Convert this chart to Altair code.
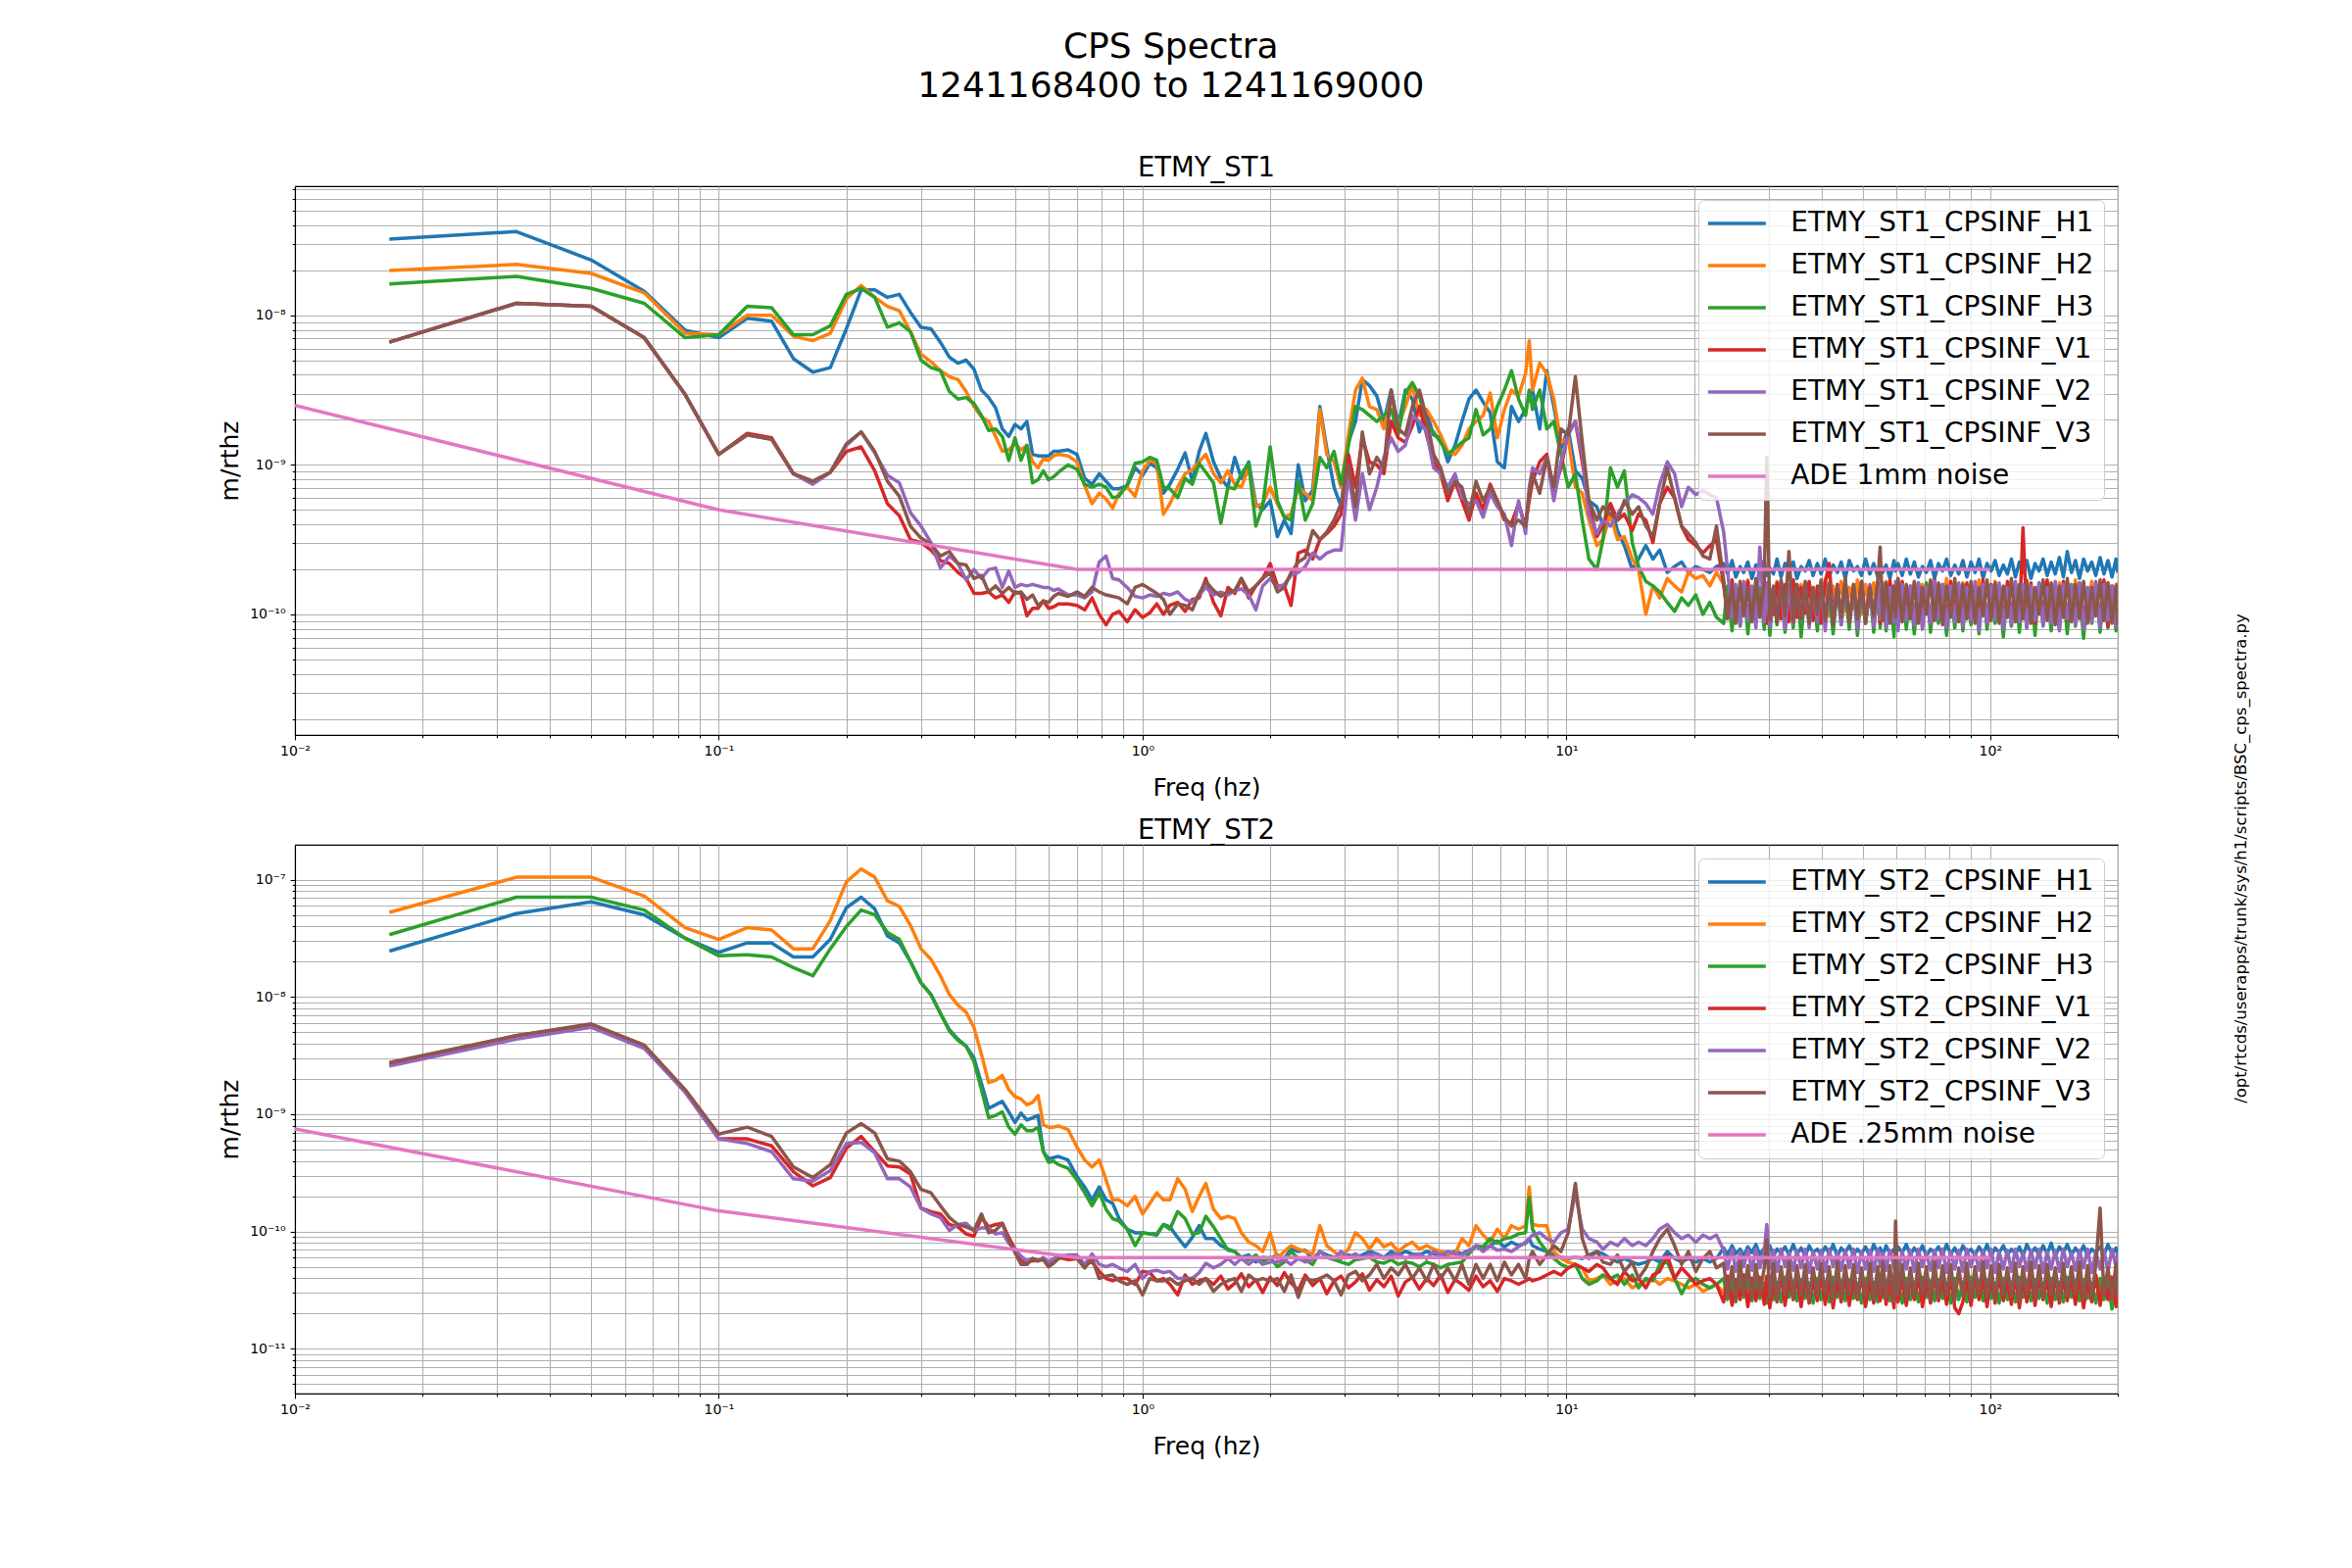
import altair as alt
import pandas as pd

# ---------------- frequency grid (Hz) ----------------
FREQ_A = [0.0167, 0.0333, 0.05, 0.0667, 0.0833, 0.1, 0.1167, 0.1333, 0.15, 0.1667,
          0.1833, 0.2, 0.2167, 0.2333, 0.25, 0.2667, 0.2833, 0.3, 0.3167, 0.3333,
          0.35, 0.3667, 0.3833, 0.4, 0.4167, 0.4333, 0.45, 0.4667, 0.4833, 0.5,
          0.5167, 0.5333, 0.55, 0.5667, 0.5833, 0.6, 0.6167, 0.6333, 0.6667]
FREQ_B = [0.70, 0.73, 0.76, 0.79, 0.82, 0.85, 0.88, 0.92, 0.96, 1.00,
          1.04, 1.08, 1.12, 1.16, 1.21, 1.26, 1.31, 1.36, 1.41, 1.47,
          1.53, 1.59, 1.65, 1.71, 1.78, 1.85, 1.92, 2.00, 2.08, 2.16,
          2.24, 2.33, 2.42, 2.52, 2.62, 2.72, 2.83, 2.94, 3.06, 3.18,
          3.30, 3.43, 3.57, 3.71, 3.86, 4.01, 4.17, 4.33, 4.50, 4.68,
          4.86, 5.05, 5.25, 5.46, 5.67, 5.89, 6.12, 6.36, 6.61, 6.87,
          7.14, 7.42, 7.71, 8.01, 8.17, 8.32, 8.65, 8.99, 9.34, 9.71,
          10.1, 10.5, 10.9, 11.3, 11.8, 12.2,
          12.7, 13.2, 13.7, 14.3, 14.8, 15.4, 16.0, 16.6, 17.3, 18.0,
          18.7, 19.4, 20.2, 21.0, 21.8, 22.6]
FREQ_C = [23.5, 24.0, 24.6, 25.1, 25.7, 26.2, 26.8, 27.4, 28.0, 28.6,
          29.3, 29.7, 30.2, 30.8, 31.4, 32.1, 32.8, 33.5, 34.3, 35.0,
          35.8, 36.6, 37.4, 38.2, 39.1, 39.9, 40.8, 41.7, 42.6, 43.6,
          44.5, 45.5, 46.5, 47.6, 48.6, 49.7, 50.8, 52.0, 53.1, 54.3,
          55.0, 55.8, 56.8, 58.0, 59.3, 59.8, 60.6, 62.0, 63.4, 64.8,
          66.2, 67.7, 69.2, 70.7, 72.3, 73.9, 75.5, 77.2, 78.9, 80.7,
          82.5, 84.3, 86.2, 88.1, 90.1, 92.1, 94.1, 96.2, 98.3, 100.5,
          102.7, 105.0, 107.4, 109.8, 112.2, 114.7, 117.2, 119.5, 122.0, 124.8,
          127.6, 130.4, 133.3, 136.3, 139.3, 142.4, 145.6, 148.8, 152.0, 155.5,
          158.9, 162.5, 166.1, 169.8, 173.6, 177.5, 181.7, 185.5, 189.6, 193.8,
          198.1, 200.0]
FREQ = FREQ_A + FREQ_B + FREQ_C

# ---------------- ETMY_ST1 spectra, log10(m/rtHz) ----------------
ST1_H1 = ([-7.49, -7.44, -7.63, -7.84, -8.10, -8.15, -8.02, -8.04, -8.29, -8.38,
           -8.35, -8.09, -7.83, -7.83, -7.88, -7.86, -7.98, -8.08, -8.09, -8.18,
           -8.28, -8.32, -8.30, -8.36, -8.50, -8.55, -8.62, -8.76, -8.81, -8.73,
           -8.76, -8.71, -8.93, -8.94, -8.94, -8.94, -8.91, -8.91, -8.90]
          + [-8.93, -9.09, -9.13, -9.06, -9.11, -9.16, -9.16, -9.14, -9.02, -9.07,
             -8.99, -9.02, -9.19, -9.13, -9.03, -8.92, -9.11, -8.91, -8.79, -8.98,
             -9.09, -9.15, -8.95, -9.09, -8.98, -9.26, -9.30, -9.24, -9.48, -9.37,
             -9.46, -9.00, -9.24, -9.17, -8.61, -8.89, -9.15, -9.28, -8.85, -8.71,
             -8.43, -8.47, -8.54, -8.71, -8.50, -8.74, -8.50, -8.56, -8.78, -8.65,
             -8.80, -8.82, -8.98, -8.87, -8.71, -8.56, -8.50, -8.58, -8.65, -8.98,
             -9.02, -8.61, -8.71, -8.63, -8.54, -8.50, -8.76, -8.37, -8.61, -8.89,
             -8.76, -9.04, -9.09, -9.24, -9.28, -9.41]
          + [-9.26, -9.44, -9.54, -9.70, -9.63, -9.54, -9.63, -9.57, -9.72, -9.68,
             -9.65, -9.72, -9.68, -9.70, -9.72, -9.68]
          + [-9.66, -9.73, -9.64, -9.75, -9.68, -9.72, -9.65, -9.76, -9.67, -9.71,
             -9.64, -9.74, -9.69, -9.73, -9.63, -9.75, -9.66, -9.72, -9.65, -9.76,
             -9.68, -9.71, -9.64, -9.74, -9.66, -9.73, -9.63, -9.75, -9.67, -9.72,
             -9.65, -9.76, -9.64, -9.71, -9.68, -9.74, -9.63, -9.73, -9.66, -9.75,
             -9.65, -9.72, -9.67, -9.76, -9.64, -9.71, -9.66, -9.74, -9.63, -9.73,
             -9.65, -9.75, -9.68, -9.72, -9.64, -9.76, -9.66, -9.71, -9.63, -9.74,
             -9.67, -9.73, -9.64, -9.75, -9.65, -9.72, -9.63, -9.76, -9.66, -9.71,
             -9.64, -9.74, -9.67, -9.73, -9.63, -9.75, -9.65, -9.72, -9.64, -9.76,
             -9.66, -9.71, -9.63, -9.74, -9.65, -9.73, -9.62, -9.75, -9.58, -9.72,
             -9.64, -9.76, -9.63, -9.71, -9.65, -9.74, -9.62, -9.73, -9.64, -9.75,
             -9.63, -9.72])

ST1_H2 = ([-7.70, -7.66, -7.72, -7.85, -8.12, -8.13, -8.00, -8.00, -8.14, -8.17,
           -8.12, -7.89, -7.80, -7.88, -7.94, -7.97, -8.11, -8.26, -8.31, -8.37,
           -8.41, -8.43, -8.51, -8.61, -8.68, -8.71, -8.81, -8.91, -8.90, -8.86,
           -8.90, -8.87, -8.98, -9.02, -8.96, -8.97, -8.94, -8.93, -8.94]
          + [-8.98, -9.14, -9.26, -9.19, -9.23, -9.29, -9.19, -9.15, -9.21, -9.04,
             -8.97, -8.99, -9.33, -9.26, -9.15, -9.06, -9.03, -8.98, -8.93, -9.06,
             -9.12, -9.04, -9.13, -9.15, -9.02, -9.28, -9.26, -9.15, -9.26, -9.35,
             -9.33, -9.15, -9.19, -9.24, -8.63, -8.93, -8.98, -9.15, -8.80, -8.50,
             -8.42, -8.61, -8.63, -8.76, -8.54, -8.74, -8.61, -8.47, -8.67, -8.63,
             -8.71, -8.80, -8.91, -8.93, -8.87, -8.76, -8.71, -8.67, -8.52, -8.82,
             -8.63, -8.50, -8.54, -8.39, -8.17, -8.50, -8.32, -8.39, -8.56, -8.85,
             -8.82, -9.15, -9.19, -9.37, -9.54, -9.50]
          + [-9.33, -9.50, -9.48, -9.63, -9.70, -10.00, -9.81, -9.89, -9.76, -9.81,
             -9.85, -9.72, -9.76, -9.74, -9.81, -9.72]
          + [-9.80, -9.97, -9.78, -10.00, -9.83, -9.95, -9.77, -9.99, -9.81, -9.96,
             -9.79, -10.01, -9.84, -9.94, -9.78, -9.98, -9.82, -9.96, -9.77, -10.00,
             -9.80, -9.95, -9.79, -9.99, -9.83, -9.97, -9.76, -10.01, -9.81, -9.94,
             -9.78, -9.98, -9.82, -9.96, -9.77, -10.00, -9.80, -9.95, -9.79, -9.99,
             -9.84, -9.97, -9.78, -10.01, -9.81, -9.94, -9.77, -9.98, -9.83, -9.96,
             -9.79, -10.00, -9.80, -9.95, -9.78, -9.99, -9.82, -9.97, -9.76, -10.01,
             -9.81, -9.94, -9.79, -9.98, -9.83, -9.96, -9.77, -10.00, -9.80, -9.95,
             -9.78, -9.99, -9.82, -9.97, -9.79, -10.01, -9.81, -9.94, -9.77, -9.98,
             -9.83, -9.96, -9.78, -10.00, -9.80, -9.95, -9.79, -9.99, -9.82, -9.97,
             -9.77, -10.01, -9.81, -9.94, -9.78, -9.98, -9.83, -9.96, -9.79, -10.00,
             -9.80, -9.95])

ST1_H3 = ([-7.79, -7.74, -7.82, -7.92, -8.15, -8.13, -7.94, -7.95, -8.13, -8.13,
           -8.07, -7.86, -7.82, -7.88, -8.08, -8.05, -8.11, -8.30, -8.35, -8.37,
           -8.51, -8.56, -8.55, -8.59, -8.67, -8.77, -8.76, -8.81, -8.97, -8.82,
           -8.97, -8.87, -9.12, -9.10, -9.04, -9.10, -9.08, -9.05, -9.00]
          + [-9.03, -9.13, -9.15, -9.13, -9.15, -9.22, -9.21, -9.13, -8.99, -8.98,
             -8.95, -8.97, -9.15, -9.16, -9.22, -9.09, -9.13, -8.99, -9.05, -9.12,
             -9.39, -9.15, -9.16, -9.06, -8.99, -9.41, -9.28, -8.88, -9.24, -9.35,
             -9.37, -9.11, -9.37, -9.26, -8.95, -9.02, -8.91, -9.13, -8.87, -8.61,
             -8.63, -8.67, -8.71, -8.67, -8.63, -8.80, -8.52, -8.45, -8.54, -8.74,
             -8.78, -8.85, -8.93, -8.89, -8.85, -8.82, -8.63, -8.80, -8.76, -8.61,
             -8.50, -8.37, -8.56, -8.67, -8.50, -8.63, -8.50, -8.76, -8.71, -8.93,
             -9.15, -9.06, -9.37, -9.63, -9.70, -9.50]
          + [-9.02, -9.15, -9.04, -9.52, -9.68, -9.78, -9.81, -9.85, -9.92, -9.98,
             -9.89, -9.94, -9.87, -10.00, -9.92, -10.02]
          + [-10.06, -9.81, -10.11, -9.84, -10.08, -9.80, -10.13, -9.83, -10.05, -9.82,
             -10.10, -9.79, -10.14, -9.85, -10.07, -9.81, -10.12, -9.83, -10.09, -9.80,
             -10.15, -9.84, -10.06, -9.82, -10.11, -9.79, -10.08, -9.85, -10.13, -9.81,
             -10.07, -9.83, -10.10, -9.80, -10.14, -9.84, -10.06, -9.82, -10.12, -9.79,
             -10.09, -9.85, -10.11, -9.81, -10.15, -9.83, -10.07, -9.80, -10.10, -9.84,
             -10.13, -9.82, -10.08, -9.79, -10.12, -9.85, -10.06, -9.81, -10.14, -9.83,
             -10.09, -9.80, -10.11, -9.84, -10.07, -9.82, -10.13, -9.79, -10.10, -9.85,
             -10.06, -9.81, -10.15, -9.83, -10.08, -9.80, -10.12, -9.84, -10.09, -9.82,
             -10.14, -9.79, -10.07, -9.85, -10.11, -9.81, -10.10, -9.83, -10.13, -9.80,
             -10.08, -9.84, -10.16, -9.82, -10.06, -9.79, -10.12, -9.85, -10.09, -9.81,
             -10.11, -9.83])

ST1_V1 = ([-8.18, -7.92, -7.94, -8.15, -8.53, -8.93, -8.79, -8.82, -9.06, -9.11,
           -9.05, -8.91, -8.88, -9.04, -9.26, -9.34, -9.50, -9.52, -9.57, -9.64,
           -9.66, -9.72, -9.76, -9.86, -9.86, -9.85, -9.89, -9.87, -9.92, -9.85,
           -9.86, -10.01, -9.96, -9.96, -9.91, -9.96, -9.95, -9.93, -9.93]
          + [-9.94, -9.97, -9.89, -10.00, -10.07, -10.00, -9.98, -10.05, -9.97, -10.02,
             -9.99, -9.93, -10.00, -9.94, -9.92, -9.98, -9.90, -9.89, -9.76, -9.92,
             -10.01, -9.82, -9.86, -9.76, -9.89, -9.81, -9.76, -9.66, -9.81, -9.81,
             -9.94, -9.59, -9.57, -9.63, -9.50, -9.46, -9.41, -9.33, -8.93, -9.15,
             -8.82, -8.98, -9.00, -9.06, -8.71, -8.82, -8.85, -8.74, -8.61, -8.80,
             -8.98, -9.06, -9.24, -9.11, -9.24, -9.37, -9.19, -9.30, -9.13, -9.24,
             -9.37, -9.39, -9.26, -9.41, -9.24, -9.11, -8.98, -8.93, -9.17, -9.02,
             -8.78, -8.71, -8.98, -9.26, -9.48, -9.41]
          + [-9.26, -9.37, -9.33, -9.44, -9.33, -9.37, -9.52, -9.26, -9.15, -9.22,
             -9.41, -9.50, -9.54, -9.59, -9.54, -9.50]
          + [-9.80, -10.02, -9.77, -10.05, -9.82, -9.99, -9.78, -10.04, -9.81, -10.01,
             -9.76, -10.06, -9.83, -10.00, -9.79, -10.03, -9.80, -10.05, -9.77, -10.02,
             -9.82, -9.99, -9.78, -10.04, -9.81, -10.06, -9.79, -9.66, -10.03, -9.80,
             -10.01, -9.77, -10.05, -9.83, -10.00, -9.78, -10.04, -9.81, -10.02, -9.79,
             -10.06, -9.80, -9.99, -9.77, -10.03, -9.82, -10.05, -9.78, -10.01, -9.81,
             -10.04, -9.79, -10.00, -9.83, -10.06, -9.77, -10.02, -9.80, -10.05, -9.78,
             -9.99, -9.82, -10.03, -9.79, -10.04, -9.81, -10.01, -9.77, -10.06, -9.80,
             -10.00, -9.83, -10.05, -9.78, -10.02, -9.81, -10.04, -9.42, -10.03, -9.79,
             -10.06, -9.80, -10.01, -9.77, -10.05, -9.82, -10.00, -9.78, -10.04, -9.81,
             -10.02, -9.79, -10.06, -9.83, -10.03, -9.80, -10.05, -9.77, -10.08, -9.81,
             -10.01, -9.79])

ST1_V2 = ([-8.18, -7.92, -7.94, -8.15, -8.53, -8.93, -8.80, -8.83, -9.06, -9.13,
           -9.05, -8.87, -8.78, -8.92, -9.07, -9.12, -9.32, -9.41, -9.52, -9.69,
           -9.61, -9.66, -9.77, -9.70, -9.76, -9.70, -9.69, -9.82, -9.71, -9.82,
           -9.80, -9.81, -9.80, -9.81, -9.82, -9.82, -9.84, -9.83, -9.87]
          + [-9.87, -9.89, -9.85, -9.65, -9.61, -9.76, -9.77, -9.82, -9.88, -9.89,
             -9.87, -9.88, -9.86, -9.87, -9.85, -9.90, -9.92, -9.87, -9.82, -9.87,
             -9.85, -9.87, -9.84, -9.83, -9.87, -9.97, -9.81, -9.76, -9.82, -9.80,
             -9.74, -9.72, -9.68, -9.59, -9.63, -9.59, -9.57, -9.57, -9.06, -9.37,
             -9.06, -9.30, -9.15, -8.95, -8.82, -8.91, -8.87, -8.67, -8.71, -8.78,
             -9.02, -9.06, -9.15, -9.06, -9.22, -9.26, -9.24, -9.35, -9.19, -9.28,
             -9.33, -9.54, -9.24, -9.46, -9.15, -9.02, -9.06, -8.95, -9.24, -8.98,
             -8.80, -8.71, -8.93, -9.33, -9.46, -9.37]
          + [-9.41, -9.33, -9.26, -9.20, -9.22, -9.26, -9.33, -9.13, -8.98, -9.06,
             -9.28, -9.15, -9.20, -9.17, -9.20, -9.22]
          + [-9.45, -9.70, -10.02, -9.80, -10.07, -9.78, -10.04, -9.81, -10.09, -9.55,
             -10.05, -9.79, -10.08, -9.82, -10.03, -9.78, -10.10, -9.80, -10.06, -9.81,
             -10.04, -9.79, -10.09, -9.82, -10.05, -9.78, -10.11, -9.80, -10.03, -9.81,
             -10.07, -9.79, -10.04, -9.82, -10.10, -9.78, -10.06, -9.80, -10.08, -9.81,
             -10.03, -9.79, -10.09, -9.82, -10.05, -9.78, -10.11, -9.80, -10.04, -9.81,
             -10.07, -9.79, -10.10, -9.82, -10.06, -9.78, -10.03, -9.80, -10.09, -9.81,
             -10.05, -9.79, -10.08, -9.82, -10.04, -9.78, -10.11, -9.80, -10.06, -9.81,
             -10.03, -9.79, -10.10, -9.82, -10.07, -9.78, -10.05, -9.80, -10.09, -9.81,
             -10.04, -9.79, -10.08, -9.82, -10.06, -9.78, -10.11, -9.80, -10.03, -9.81,
             -10.07, -9.79, -10.10, -9.82, -10.05, -9.78, -10.09, -9.80, -10.04, -9.81,
             -10.08, -9.79])

ST1_V3 = ([-8.18, -7.92, -7.94, -8.15, -8.53, -8.93, -8.80, -8.83, -9.06, -9.11,
           -9.05, -8.86, -8.78, -8.91, -9.11, -9.21, -9.41, -9.49, -9.53, -9.61,
           -9.58, -9.66, -9.67, -9.76, -9.74, -9.85, -9.81, -9.86, -9.82, -9.86,
           -9.85, -9.90, -9.87, -9.94, -9.91, -9.92, -9.88, -9.86, -9.88]
          + [-9.85, -9.88, -9.82, -9.85, -9.87, -9.88, -9.89, -9.93, -9.82, -9.80,
             -9.83, -9.86, -9.90, -10.00, -9.93, -9.94, -9.97, -9.86, -9.78, -9.84,
             -9.88, -9.85, -9.84, -9.76, -9.85, -9.81, -9.76, -9.72, -9.85, -9.82,
             -9.72, -9.65, -9.62, -9.44, -9.50, -9.45, -9.37, -9.26, -9.00, -9.28,
             -8.78, -9.06, -8.95, -9.02, -8.50, -8.76, -8.80, -8.61, -8.50, -8.69,
             -8.93, -9.02, -9.19, -9.11, -9.15, -9.33, -9.11, -9.24, -9.15, -9.24,
             -9.35, -9.41, -9.37, -9.41, -9.19, -9.06, -9.19, -8.95, -9.15, -8.76,
             -8.80, -8.41, -8.85, -9.24, -9.37, -9.28]
          + [-9.33, -9.37, -9.24, -9.33, -9.28, -9.41, -9.48, -9.26, -9.02, -9.22,
             -9.41, -9.46, -9.52, -9.61, -9.63, -9.41]
          + [-9.77, -10.03, -9.80, -10.06, -9.78, -10.01, -9.82, -10.05, -9.76, -10.02,
             -9.79, -8.95, -10.04, -9.81, -10.06, -9.77, -10.01, -9.58, -10.05, -9.80,
             -10.03, -9.78, -10.06, -9.82, -10.00, -9.77, -10.04, -9.79, -10.07, -9.81,
             -10.02, -9.76, -10.05, -9.80, -10.03, -9.78, -10.06, -9.82, -10.01, -9.77,
             -9.55, -10.04, -9.79, -10.06, -9.81, -10.02, -9.76, -10.05, -9.80, -10.03,
             -9.78, -10.06, -9.82, -10.00, -9.77, -10.04, -9.79, -10.07, -9.81, -10.02,
             -9.76, -10.05, -9.80, -10.03, -9.78, -10.06, -9.82, -10.01, -9.77, -10.04,
             -9.79, -10.06, -9.81, -10.02, -9.76, -10.05, -9.80, -10.03, -9.78, -10.06,
             -9.82, -10.00, -9.77, -10.04, -9.79, -10.07, -9.81, -10.02, -9.76, -10.05,
             -9.80, -10.03, -9.78, -10.06, -9.82, -10.01, -9.77, -10.04, -9.79, -10.06,
             -9.81, -10.07])

# ---------------- ETMY_ST2 spectra, log10(m/rtHz) ----------------
ST2_H1 = ([-7.61, -7.29, -7.19, -7.30, -7.50, -7.62, -7.54, -7.54, -7.66, -7.66,
           -7.51, -7.24, -7.15, -7.25, -7.48, -7.54, -7.70, -7.88, -7.98, -8.14,
           -8.28, -8.36, -8.42, -8.52, -8.74, -8.95, -8.92, -8.89, -8.98, -9.07,
           -8.99, -9.05, -9.03, -9.01, -9.32, -9.38, -9.37, -9.36, -9.39]
          + [-9.53, -9.62, -9.73, -9.62, -9.73, -9.76, -9.89, -9.98, -10.01, -10.01,
             -10.02, -10.03, -9.94, -9.96, -10.05, -10.13, -10.05, -9.95, -10.06, -10.06,
             -10.12, -10.15, -10.17, -10.22, -10.20, -10.26, -10.22, -10.23, -10.20, -10.23,
             -10.15, -10.17, -10.16, -10.24, -10.17, -10.20, -10.22, -10.23, -10.20, -10.22,
             -10.20, -10.17, -10.19, -10.22, -10.17, -10.20, -10.17, -10.19, -10.20, -10.17,
             -10.19, -10.20, -10.20, -10.17, -10.19, -10.16, -10.13, -10.15, -10.12, -10.08,
             -10.13, -10.09, -10.12, -10.10, -10.06, -10.12, -10.15, -10.17, -10.20, -10.22,
             -10.23, -10.22, -10.23, -10.20, -10.17, -10.19]
          + [-10.23, -10.26, -10.23, -10.26, -10.28, -10.26, -10.23, -10.26, -10.17, -10.23,
             -10.26, -10.23, -10.26, -10.23, -10.26, -10.23]
          + [-10.14, -10.20, -10.12, -10.19, -10.15, -10.21, -10.13, -10.18, -10.11, -10.20,
             -10.14, -10.19, -10.12, -10.21, -10.15, -10.18, -10.13, -10.20, -10.11, -10.19,
             -10.14, -10.21, -10.12, -10.18, -10.15, -10.20, -10.13, -10.19, -10.11, -10.21,
             -10.14, -10.18, -10.12, -10.20, -10.15, -10.19, -10.13, -10.21, -10.11, -10.18,
             -10.14, -10.20, -10.12, -10.19, -10.15, -10.21, -10.13, -10.18, -10.11, -10.20,
             -10.14, -10.19, -10.12, -10.21, -10.15, -10.18, -10.13, -10.20, -10.11, -10.19,
             -10.14, -10.21, -10.12, -10.18, -10.15, -10.20, -10.13, -10.19, -10.11, -10.21,
             -10.14, -10.18, -10.12, -10.20, -10.15, -10.19, -10.13, -10.21, -10.11, -10.18,
             -10.14, -10.20, -10.12, -10.19, -10.10, -10.21, -10.13, -10.18, -10.11, -10.20,
             -10.14, -10.19, -10.12, -10.21, -10.15, -10.18, -10.13, -10.20, -10.11, -10.19,
             -10.14, -10.21])

ST2_H2 = ([-7.28, -6.98, -6.98, -7.14, -7.41, -7.51, -7.41, -7.43, -7.59, -7.59,
           -7.35, -7.02, -6.91, -6.98, -7.18, -7.23, -7.39, -7.59, -7.68, -7.82,
           -7.98, -8.07, -8.13, -8.26, -8.49, -8.73, -8.71, -8.67, -8.79, -8.85,
           -8.87, -8.92, -8.90, -8.84, -9.09, -9.11, -9.11, -9.10, -9.13]
          + [-9.28, -9.39, -9.45, -9.39, -9.56, -9.73, -9.73, -9.78, -9.70, -9.85,
             -9.76, -9.67, -9.73, -9.73, -9.55, -9.64, -9.83, -9.70, -9.59, -9.81,
             -9.89, -9.87, -9.89, -10.01, -10.09, -10.12, -10.17, -10.01, -10.23, -10.17,
             -10.12, -10.15, -10.17, -10.19, -9.95, -10.12, -10.17, -10.22, -10.15, -10.01,
             -10.06, -10.15, -10.06, -10.13, -10.10, -10.17, -10.12, -10.09, -10.15, -10.12,
             -10.15, -10.17, -10.19, -10.19, -10.06, -10.12, -9.95, -10.03, -10.09, -9.98,
             -10.06, -9.95, -9.98, -9.95, -9.62, -9.94, -9.95, -9.95, -10.17, -10.23,
             -10.26, -10.28, -10.31, -10.42, -10.40, -10.37]
          + [-10.45, -10.42, -10.40, -10.48, -10.45, -10.42, -10.40, -10.45, -10.40, -10.42,
             -10.45, -10.48, -10.45, -10.51, -10.48, -10.45]
          + [-10.52, -10.38, -10.55, -10.41, -10.50, -10.37, -10.54, -10.40, -10.51, -10.39,
             -10.56, -10.38, -10.53, -10.41, -10.50, -10.37, -10.55, -10.40, -10.52, -10.39,
             -10.54, -10.38, -10.51, -10.41, -10.56, -10.37, -10.53, -10.40, -10.50, -10.39,
             -10.55, -10.38, -10.52, -10.41, -10.54, -10.37, -10.51, -10.40, -10.56, -10.39,
             -10.53, -10.38, -10.50, -10.41, -10.55, -10.37, -10.52, -10.40, -10.54, -10.39,
             -10.51, -10.38, -10.56, -10.41, -10.53, -10.37, -10.50, -10.40, -10.55, -10.39,
             -10.52, -10.38, -10.54, -10.41, -10.51, -10.37, -10.56, -10.40, -10.53, -10.39,
             -10.50, -10.38, -10.55, -10.41, -10.52, -10.37, -10.54, -10.40, -10.51, -10.39,
             -10.56, -10.38, -10.53, -10.41, -10.50, -10.37, -10.55, -10.40, -10.52, -10.39,
             -10.54, -10.38, -10.51, -10.41, -10.56, -10.37, -10.53, -10.40, -10.50, -10.39,
             -10.55, -10.38])

ST2_H3 = ([-7.47, -7.15, -7.15, -7.26, -7.50, -7.65, -7.64, -7.66, -7.75, -7.82,
           -7.59, -7.40, -7.26, -7.30, -7.45, -7.51, -7.70, -7.88, -7.98, -8.14,
           -8.29, -8.37, -8.42, -8.55, -8.79, -9.03, -9.01, -8.98, -9.11, -9.17,
           -9.09, -9.14, -9.14, -9.11, -9.32, -9.41, -9.40, -9.43, -9.46]
          + [-9.56, -9.67, -9.78, -9.67, -9.81, -9.89, -9.91, -9.98, -10.12, -10.01,
             -10.02, -10.02, -9.94, -9.98, -9.83, -9.89, -10.02, -10.01, -9.87, -9.96,
             -10.06, -10.16, -10.17, -10.23, -10.24, -10.20, -10.26, -10.22, -10.30, -10.26,
             -10.17, -10.23, -10.24, -10.28, -10.17, -10.22, -10.24, -10.26, -10.28, -10.24,
             -10.23, -10.22, -10.26, -10.27, -10.24, -10.28, -10.26, -10.27, -10.30, -10.26,
             -10.28, -10.31, -10.28, -10.27, -10.26, -10.19, -10.12, -10.13, -10.06, -10.10,
             -10.06, -10.05, -10.02, -10.01, -9.71, -9.98, -10.09, -10.17, -10.23, -10.28,
             -10.31, -10.28, -10.40, -10.45, -10.42, -10.37]
          + [-10.40, -10.37, -10.45, -10.37, -10.48, -10.40, -10.42, -10.28, -10.26, -10.40,
             -10.53, -10.42, -10.40, -10.45, -10.48, -10.45]
          + [-10.40, -10.58, -10.43, -10.60, -10.39, -10.56, -10.42, -10.59, -10.41, -10.57,
             -10.44, -10.61, -10.40, -10.58, -10.43, -10.60, -10.39, -10.56, -10.42, -10.59,
             -10.41, -10.57, -10.44, -10.61, -10.40, -10.58, -10.43, -10.60, -10.39, -10.56,
             -10.42, -10.59, -10.41, -10.57, -10.44, -10.61, -10.40, -10.58, -10.43, -10.60,
             -10.39, -10.56, -10.42, -10.59, -10.41, -10.57, -10.44, -10.61, -10.40, -10.58,
             -10.43, -10.60, -10.39, -10.56, -10.42, -10.59, -10.41, -10.57, -10.44, -10.61,
             -10.40, -10.58, -10.43, -10.60, -10.39, -10.56, -10.42, -10.59, -10.41, -10.57,
             -10.44, -10.61, -10.40, -10.58, -10.43, -10.60, -10.39, -10.56, -10.42, -10.59,
             -10.41, -10.57, -10.44, -10.61, -10.40, -10.58, -10.43, -10.60, -10.39, -10.56,
             -10.42, -10.59, -10.41, -10.57, -10.44, -10.61, -10.40, -10.58, -10.43, -10.66,
             -10.41, -10.60])

ST2_V1 = ([-8.58, -8.33, -8.24, -8.42, -8.81, -9.21, -9.21, -9.27, -9.49, -9.61,
           -9.54, -9.29, -9.19, -9.32, -9.44, -9.45, -9.51, -9.80, -9.83, -9.85,
           -9.94, -9.96, -10.02, -10.04, -9.88, -9.96, -9.94, -9.93, -10.05, -10.15,
           -10.25, -10.26, -10.25, -10.25, -10.23, -10.27, -10.25, -10.22, -10.24]
          + [-10.23, -10.28, -10.26, -10.34, -10.40, -10.42, -10.40, -10.40, -10.45, -10.34,
             -10.35, -10.42, -10.40, -10.45, -10.54, -10.37, -10.45, -10.42, -10.40, -10.45,
             -10.38, -10.49, -10.44, -10.36, -10.47, -10.41, -10.52, -10.39, -10.46, -10.35,
             -10.44, -10.50, -10.37, -10.46, -10.40, -10.53, -10.42, -10.38, -10.48, -10.43,
             -10.36, -10.50, -10.41, -10.47, -10.38, -10.55, -10.43, -10.39, -10.49, -10.40,
             -10.46, -10.37, -10.52, -10.41, -10.45, -10.50, -10.38, -10.47, -10.42, -10.51,
             -10.40, -10.42, -10.45, -10.42, -10.40, -10.42, -10.40, -10.37, -10.34, -10.37,
             -10.31, -10.28, -10.31, -10.34, -10.28, -10.31]
          + [-10.40, -10.45, -10.34, -10.42, -10.40, -10.48, -10.37, -10.34, -10.20, -10.40,
             -10.31, -10.37, -10.45, -10.42, -10.40, -10.45]
          + [-10.60, -10.38, -10.63, -10.41, -10.58, -10.37, -10.64, -10.40, -10.59, -10.39,
             -10.62, -10.38, -10.65, -10.41, -10.60, -10.37, -10.63, -10.40, -10.58, -10.39,
             -10.64, -10.38, -10.61, -10.41, -10.59, -10.37, -10.62, -10.40, -10.65, -10.39,
             -10.60, -10.38, -10.63, -10.41, -10.58, -10.37, -10.64, -10.40, -10.61, -10.39,
             -10.59, -10.38, -10.62, -10.41, -10.65, -10.37, -10.60, -10.40, -10.63, -10.39,
             -10.58, -10.38, -10.64, -10.41, -10.61, -10.37, -10.59, -10.40, -10.62, -10.39,
             -10.65, -10.70, -10.60, -10.41, -10.63, -10.37, -10.58, -10.40, -10.64, -10.39,
             -10.61, -10.38, -10.59, -10.41, -10.62, -10.37, -10.65, -10.40, -10.60, -10.39,
             -10.63, -10.38, -10.58, -10.41, -10.64, -10.37, -10.61, -10.40, -10.59, -10.39,
             -10.62, -10.38, -10.65, -10.41, -10.60, -10.37, -10.63, -10.40, -10.58, -10.39,
             -10.64, -10.38])

ST2_V2 = ([-8.59, -8.36, -8.26, -8.44, -8.81, -9.21, -9.25, -9.32, -9.55, -9.57,
           -9.48, -9.25, -9.24, -9.33, -9.55, -9.55, -9.62, -9.80, -9.85, -9.88,
           -9.99, -9.94, -9.93, -9.99, -9.97, -9.97, -10.02, -10.01, -10.10, -10.15,
           -10.21, -10.25, -10.23, -10.25, -10.22, -10.26, -10.23, -10.21, -10.20]
          + [-10.20, -10.28, -10.19, -10.28, -10.30, -10.28, -10.31, -10.34, -10.28, -10.40,
             -10.34, -10.33, -10.35, -10.34, -10.40, -10.40, -10.40, -10.35, -10.27, -10.31,
             -10.28, -10.23, -10.28, -10.23, -10.28, -10.23, -10.28, -10.26, -10.26, -10.24,
             -10.28, -10.23, -10.26, -10.24, -10.17, -10.22, -10.23, -10.17, -10.22, -10.19,
             -10.23, -10.20, -10.19, -10.23, -10.20, -10.19, -10.23, -10.20, -10.19, -10.23,
             -10.17, -10.20, -10.17, -10.19, -10.20, -10.17, -10.12, -10.17, -10.12, -10.16,
             -10.15, -10.17, -10.13, -10.09, -10.06, -10.03, -10.01, -10.06, -10.09, -10.01,
             -9.98, -9.67, -9.98, -10.06, -10.09, -10.15]
          + [-10.09, -10.12, -10.06, -10.12, -10.09, -10.12, -10.06, -9.98, -9.94, -10.01,
             -10.06, -10.03, -10.09, -10.03, -10.06, -10.03]
          + [-10.16, -10.32, -10.15, -10.34, -10.18, -10.30, -10.16, -10.33, -10.15, -10.31,
             -10.17, -9.94, -10.32, -10.16, -10.34, -10.15, -10.30, -10.18, -10.33, -10.16,
             -10.31, -10.15, -10.35, -10.17, -10.32, -10.16, -10.34, -10.15, -10.30, -10.18,
             -10.33, -10.16, -10.31, -10.15, -10.35, -10.17, -10.32, -10.16, -10.34, -10.15,
             -10.30, -10.18, -10.33, -10.16, -10.31, -10.15, -10.35, -10.17, -10.32, -10.16,
             -10.34, -10.15, -10.30, -10.18, -10.33, -10.16, -10.31, -10.15, -10.35, -10.17,
             -10.32, -10.16, -10.34, -10.15, -10.30, -10.18, -10.33, -10.16, -10.31, -10.15,
             -10.35, -10.17, -10.32, -10.16, -10.34, -10.15, -10.30, -10.18, -10.33, -10.16,
             -10.31, -10.15, -10.35, -10.17, -10.32, -10.16, -10.34, -10.15, -10.30, -10.18,
             -10.33, -10.16, -10.31, -10.15, -10.35, -10.17, -10.32, -10.16, -10.34, -10.15,
             -10.30, -10.18])

ST2_V3 = ([-8.56, -8.33, -8.23, -8.41, -8.79, -9.17, -9.11, -9.19, -9.45, -9.54,
           -9.43, -9.16, -9.08, -9.16, -9.38, -9.40, -9.49, -9.64, -9.67, -9.78,
           -9.88, -9.94, -9.96, -9.99, -9.85, -10.01, -9.99, -9.93, -10.07, -10.18,
           -10.28, -10.28, -10.23, -10.25, -10.24, -10.30, -10.27, -10.23, -10.21]
          + [-10.23, -10.31, -10.23, -10.40, -10.38, -10.37, -10.42, -10.45, -10.42, -10.54,
             -10.40, -10.42, -10.42, -10.40, -10.45, -10.42, -10.40, -10.45, -10.40, -10.51,
             -10.45, -10.42, -10.40, -10.51, -10.37, -10.42, -10.40, -10.42, -10.40, -10.51,
             -10.37, -10.56, -10.40, -10.42, -10.40, -10.37, -10.42, -10.54, -10.37, -10.34,
             -10.42, -10.37, -10.28, -10.40, -10.31, -10.37, -10.28, -10.40, -10.31, -10.42,
             -10.28, -10.40, -10.31, -10.42, -10.28, -10.45, -10.28, -10.40, -10.28, -10.42,
             -10.26, -10.37, -10.28, -10.40, -10.23, -10.17, -10.28, -10.20, -10.12, -10.17,
             -10.01, -9.59, -10.06, -10.23, -10.17, -10.26]
          + [-10.28, -10.20, -10.34, -10.26, -10.40, -10.31, -10.17, -10.06, -9.98, -10.12,
             -10.28, -10.17, -10.34, -10.23, -10.17, -10.31]
          + [-10.27, -10.55, -10.30, -10.58, -10.26, -10.53, -10.29, -10.57, -10.28, -10.54,
             -10.31, -10.07, -10.56, -10.27, -10.59, -10.30, -10.53, -10.26, -10.57, -10.29,
             -10.54, -10.28, -10.58, -10.31, -10.55, -10.27, -10.53, -10.30, -10.59, -10.26,
             -10.56, -10.29, -10.54, -10.28, -10.57, -10.31, -10.55, -10.27, -10.58, -10.30,
             -10.53, -10.26, -10.56, -10.29, -10.59, -9.91, -10.54, -10.28, -10.57, -10.31,
             -10.55, -10.27, -10.53, -10.30, -10.58, -10.26, -10.56, -10.29, -10.54, -10.28,
             -10.59, -10.31, -10.55, -10.27, -10.57, -10.30, -10.53, -10.26, -10.56, -10.29,
             -10.58, -10.28, -10.54, -10.31, -10.55, -10.27, -10.59, -10.30, -10.53, -10.26,
             -10.57, -10.29, -10.56, -10.28, -10.54, -10.31, -10.58, -10.27, -10.55, -10.30,
             -10.53, -10.26, -10.57, -10.29, -10.56, -10.28, -9.80, -10.54, -10.31, -10.58,
             -10.27, -10.55])

# ---------------- ADE noise references ----------------
NOISE_FREQ = [0.01, 0.1, 0.7, 100.0]
NOISE_ST1 = [2.5e-9, 5.0e-10, 2.0e-10, 2.0e-10]
NOISE_ST2 = [7.5e-10, 1.5e-10, 6.0e-11, 6.0e-11]

CHANNELS = ["H1", "H2", "H3", "V1", "V2", "V3"]
COLORS = ["#1f77b4", "#ff7f0e", "#2ca02c", "#d62728", "#9467bd", "#8c564b", "#e377c2"]
SCRIPT_PATH = "/opt/rtcds/userapps/trunk/sys/h1/scripts/BSC_cps_spectra.py"
FONT = "DejaVu Sans"

SUP = str.maketrans("-0123456789", "\u207b\u2070\u00b9\u00b2\u00b3\u2074\u2075\u2076\u2077\u2078\u2079")


def dec_label(e):
    return "10" + str(e).translate(SUP)


def log_axis_parts(lo, hi, e_lo, e_hi):
    vals, majors = [], []
    for e in range(e_lo, e_hi + 1):
        for k in range(1, 10):
            v = float(f"{k}e{e}")
            if lo <= v <= hi:
                vals.append(v)
                if k == 1:
                    majors.append((v, e))
    arr = "[" + ",".join(repr(v) for v, _ in majors) + "]"
    expr = " : ".join(f"datum.value == {repr(v)} ? '{dec_label(e)}'" for v, e in majors) + " : ''"
    tick = {"condition": {"test": f"indexof({arr}, datum.value) >= 0", "value": 4.9}, "value": 2.8}
    return vals, expr, tick


W, H = 1860, 560


def panel(stage, logs_list, noise_vals, noise_label, ydom, ye):
    names = [f"ETMY_{stage}_CPSINF_{c}" for c in CHANNELS] + [noise_label]
    rows = []
    for name, logs in zip(names[:6], logs_list):
        assert len(logs) == len(FREQ), (name, len(logs), len(FREQ))
        for f, l in zip(FREQ, logs):
            rows.append({"freq": f, "asd": 10.0 ** l, "series": name})
    for f, v in zip(NOISE_FREQ, noise_vals):
        rows.append({"freq": f, "asd": v, "series": noise_label})
    df = pd.DataFrame(rows)

    xv, xexpr, xtick = log_axis_parts(0.01, 200.0, -2, 2)
    yv, yexpr, ytick = log_axis_parts(ydom[0], ydom[1], ye[0], ye[1])

    x = alt.X("freq:Q",
              scale=alt.Scale(type="log", domain=[0.01, 200.0], nice=False),
              axis=alt.Axis(values=xv, labelExpr=xexpr, tickSize=xtick, labelOverlap=False,
                            labelFlush=False, labelPadding=5, title="Freq (hz)",
                            titleX=W / 2, titleY=61, titleAlign="center",
                            titleBaseline="alphabetic"))
    y = alt.Y("asd:Q",
              scale=alt.Scale(type="log", domain=list(ydom), nice=False),
              axis=alt.Axis(values=yv, labelExpr=yexpr, tickSize=ytick, labelOverlap=False,
                            labelFlush=False, labelPadding=5, title="m/rthz",
                            titleX=-59, titleY=H / 2, titleAngle=270, titleAlign="center",
                            titleBaseline="alphabetic"))
    color = alt.Color("series:N",
                      scale=alt.Scale(domain=names, range=COLORS),
                      legend=alt.Legend(title=None, orient="top-right", offset=14, padding=10,
                                        fillColor="rgba(255,255,255,0.8)", strokeColor="#cccccc",
                                        cornerRadius=6, symbolType="M-4.2,0H4.2", symbolSize=196,
                                        symbolStrokeWidth=3.5, symbolOffset=15.4, labelOffset=40.8,
                                        labelFontSize=28, labelFont=FONT, labelColor="black",
                                        labelLimit=1000, rowPadding=15, symbolOpacity=1))
    layers = []
    for n in names:
        layers.append(
            alt.Chart(df).transform_filter(alt.datum.series == n)
            .mark_line(strokeWidth=3.5, clip=True, strokeJoin="round")
            .encode(x=x, y=y, color=color)
        )
    return layers


def panel_title(text):
    return alt.TitleParams(text, font=FONT, fontSize=27.5, fontWeight="normal", color="black",
                           anchor="middle", baseline="bottom", offset=-27.5)


p1_layers = panel("ST1", [ST1_H1, ST1_H2, ST1_H3, ST1_V1, ST1_V2, ST1_V3],
                  NOISE_ST1, "ADE 1mm noise", (1.56e-11, 7.3e-8), (-11, -8))
path_text = (alt.Chart(pd.DataFrame({"t": [SCRIPT_PATH]}))
             .mark_text(angle=270, font=FONT, fontSize=16.5, align="center",
                        baseline="middle", color="black")
             .encode(x=alt.value(1986), y=alt.value(686), text="t:N"))
p1 = alt.layer(*p1_layers, path_text).properties(width=W, height=H, title=panel_title("ETMY_ST1"))

p2_layers = panel("ST2", [ST2_H1, ST2_H2, ST2_H3, ST2_V1, ST2_V2, ST2_V3],
                  NOISE_ST2, "ADE .25mm noise", (4.16e-12, 1.98e-7), (-12, -7))
p2 = alt.layer(*p2_layers).properties(width=W, height=H, title=panel_title("ETMY_ST2"))

chart = (
    alt.vconcat(p1, p2, spacing=112, bounds="flush")
    .resolve_scale(color="independent")
    .properties(
        title=alt.TitleParams(["CPS Spectra", "1241168400 to 1241169000"], font=FONT,
                              fontSize=36, lineHeight=40, fontWeight="normal", color="black",
                              anchor="middle", frame="bounds", baseline="bottom",
                              offset=14, dx=-64),
        padding={"left": 213, "top": 22, "right": 20, "bottom": 20},
        background="white",
    )
    .configure_view(stroke="black", strokeWidth=1.1)
    .configure_axis(labelFont=FONT, labelFontSize=14, labelColor="black",
                    titleFont=FONT, titleFontSize=25, titleFontWeight="normal",
                    titleColor="black", grid=True, gridColor="#b0b0b0", gridWidth=1.1,
                    tickColor="black", tickWidth=1.1, domainColor="black", domainWidth=1.1)
)

chart.save("out.html", embed_options={"renderer": "svg", "actions": False})
